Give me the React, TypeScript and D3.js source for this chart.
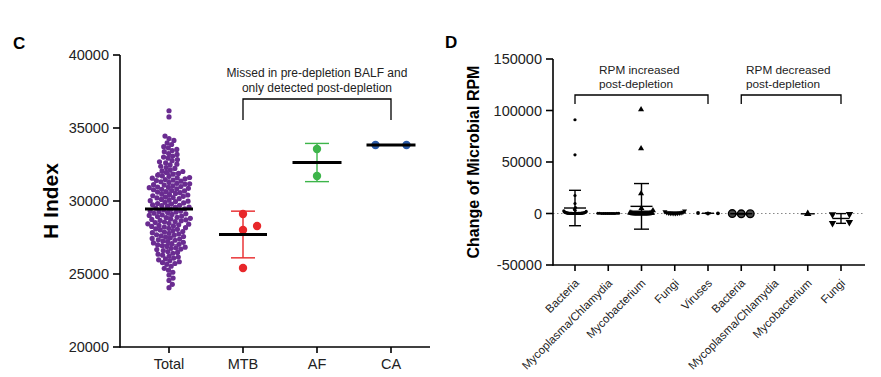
import React from "react";
import * as d3 from "d3";

// ---------- Panel C data ----------
const cCategories = ["Total", "MTB", "AF", "CA"];
const cTicks = [20000, 25000, 30000, 35000, 40000];
const totalValues = [
  36180, 35760,
  34450, 34280, 34150, 33980, 33870, 33720, 33640, 33530,
  33460, 33380, 33250, 33190, 33080, 33010, 32930, 32840, 32760, 32690, 32610, 32520, 32470, 32380, 32290, 32230, 32140,
  32070, 32020, 31960, 31890, 31840, 31770, 31720, 31690, 31610, 31560, 31520, 31470, 31430, 31360, 31320, 31270, 31210, 31180,
  31120, 31090, 31040, 30990, 30960, 30910, 30870, 30830, 30800, 30770, 31580, 31400, 31150, 30940,
  30720, 30690, 30640, 30610, 30570, 30520, 30470, 30440, 30410, 30360, 30320, 30270, 30240, 30210, 30160, 30110, 30070,
  30020, 29990, 29960, 29910, 29870, 29830, 29790, 29740, 29710, 29680, 29630, 29590, 29560, 29510, 29470, 29430,
  29390, 29340, 29310, 29270, 29240, 29210, 29160, 29120, 29080, 29040, 29010, 28970, 28940, 28880, 28860, 28810, 28770,
  28740, 28710, 28670, 28640, 28590, 28560, 28520, 28470, 28440, 28410, 28370, 28330, 28290, 28260, 28220, 28170, 28130,
  28090, 28060, 28020,
  27970, 27910, 27870, 27830, 27790, 27740, 27690, 27660, 27610, 27570, 27520, 27480, 27440, 27390, 27340, 27310, 27260,
  27220, 27170, 27130, 27080, 27030, 26990, 26940, 26890, 26840, 26790, 26760, 26710, 26670,
  26610, 26540, 26480, 26420, 26360, 26290, 26230, 26160, 26090, 26030, 25970, 25910, 25840, 25780, 25720, 25660,
  25530, 25390, 25260, 25120, 24930, 24720,
  24560, 24290, 24060,
];
const mtbValues = [29110, 28014, 28288, 25411];
const afValues = [33560, 31710];
const caValues = [33840, 33840];
const cBracketText = ["Missed in pre-depletion BALF and", "only detected post-depletion"];

// ---------- Panel D data ----------
const dCategories = [
  "Bacteria", "Mycoplasma/Chlamydia", "Mycobacterium", "Fungi", "Viruses",
  "Bacteria", "Mycoplasma/Chlamydia", "Mycobacterium", "Fungi",
];
const dTicks = [-50000, 0, 50000, 100000, 150000];
const incBacteria = [
  91000, 57000, 17500, 9700, 5800, 4000, 3000, 2500, 2000, 1500, 1200, 1000, 900, 800, 700, 600, 500, 450, 400,
  350, 300, 250, 200, 150, 120, 100, 80, 60, 50, 40, 30, 20, 10, 0, 0, 0, 0, 0,
];
const incMycoplasma = [300, 250, 200, 150, 120, 100, 80, 60, 40, 20, 0, 0];
const incMycobacterium = [
  101000, 63000, 19400, 5000, 3000, 800, 600, 400, 300, 200, 150, 100, 80, 60, 40, 20, 10, 0, 0, 0, 0, 0, 0, 0, 0, 0, 0, 0,
];
const incFungi = [2500, 1800, 1200, 800, 600, 400, 300, 200, 100, 50, 0, 0];
const incViruses = [500, 200, 0];
const decBacteria = [-100, -200, -300];
const decMycoplasma: number[] = [];
const decMycobacterium = [-300];
const decFungi = [-600, -900, -8400, -9400];
const dBracketA = ["RPM increased", "post-depletion"];
const dBracketB = ["RPM decreased", "post-depletion"];

const FONT = "'Liberation Sans', Arial, Helvetica, sans-serif";

type P = { v: number; x: number; y: number };
function swarm(values: number[], y: (v: number) => number, sx: number, sy: number, center: boolean): P[] {
  const sorted = values.map((v) => ({ v, y: y(v), x: 0 })).sort((a, b) => a.v - b.v);
  const placed: P[] = [];
  for (const p of sorted) {
    const iv: [number, number][] = [];
    for (const q of placed) {
      const dy = Math.abs(p.y - q.y);
      if (dy < sy) {
        const w = sx * Math.sqrt(1 - (dy / sy) ** 2);
        iv.push([q.x - w, q.x + w]);
      }
    }
    const cands = [0];
    iv.forEach(([a, b]) => cands.push(a, b));
    cands.sort((a, b) => Math.abs(a) - Math.abs(b) || b - a);
    let x = 0;
    for (const c of cands) {
      if (!iv.some(([a, b]) => c > a + 1e-6 && c < b - 1e-6)) { x = c; break; }
    }
    placed.push({ ...p, x });
  }
  if (center && placed.length) {
    const ext = d3.extent(placed, (d) => d.x) as [number, number];
    const s = (ext[0] + ext[1]) / 2;
    placed.forEach((d) => (d.x -= s));
  }
  return placed;
}

function stats(values: number[]) {
  const m = d3.mean(values) ?? 0;
  const sd = values.length > 1 ? d3.deviation(values) ?? 0 : 0;
  return { m, sd };
}

export default function App() {
  // ---- Panel C scales
  const cy = d3.scaleLinear().domain([20000, 40000]).range([347, 55]);
  const cx = d3.scalePoint<string>().domain(cCategories).range([169, 391]);
  const cAxisX0 = 120, cAxisX1 = 430;
  const cGroups = [
    { name: "Total", vals: totalValues, color: "#6a2c91", r: 2.6, sx: 4.7, sy: 4.7, center: false, mw: 48, cap: 24 },
    { name: "MTB", vals: mtbValues, color: "#e8272a", r: 4.2, sx: 16, sy: 8.4, center: false, mw: 48, cap: 24 },
    { name: "AF", vals: afValues, color: "#3db54a", r: 4.2, sx: 16, sy: 8.4, center: false, mw: 49, cap: 24 },
    { name: "CA", vals: caValues, color: "#2a5aa8", r: 4.2, sx: 31, sy: 8.4, center: true, mw: 49, cap: 24 },
  ];

  // ---- Panel D scales
  const dy = d3.scaleLinear().domain([-50000, 150000]).range([265, 59]);
  const dx = d3.scalePoint<string>().domain(dCategories.map((_, i) => String(i))).range([575, 841]);
  const dAxisX0 = 553, dAxisX1 = 865;
  const triUp = d3.symbol().type(d3.symbolTriangle);
  const dGroups = [
    { vals: incBacteria, shape: "dot", size: 1.6, sx: 0.75, sy: 3.2, mw: 22, cap: 12 },
    { vals: incMycoplasma, shape: "dot", size: 1.5, sx: 1.9, sy: 3.0, mw: 22, cap: 12 },
    { vals: incMycobacterium, shape: "up", size: 16, sx: 1.0, sy: 5.5, mw: 22, cap: 15 },
    { vals: incFungi, shape: "down", size: 11, sx: 1.8, sy: 4.0, mw: 22, cap: 12 },
    { vals: incViruses, shape: "dot", size: 1.9, sx: 10, sy: 4.0, mw: 12, cap: 6 },
    { vals: decBacteria, shape: "circle", size: 3.8, sx: 9, sy: 8.0, mw: 22, cap: 12 },
    { vals: decMycoplasma, shape: "dot", size: 1.5, sx: 3, sy: 3, mw: 22, cap: 12 },
    { vals: decMycobacterium, shape: "up", size: 24, sx: 8, sy: 7, mw: 14, cap: 8 },
    { vals: decFungi, shape: "down", size: 24, sx: 17, sy: 8, mw: 17, cap: 10 },
  ];

  const marker = (shape: string, size: number, x: number, y: number, key: number) => {
    if (shape === "dot") return <circle key={key} cx={x} cy={y} r={size} fill="#000" />;
    if (shape === "circle")
      return <circle key={key} cx={x} cy={y} r={size} fill="#444" stroke="#000" strokeWidth={1.4} />;
    const path = triUp.size(size)() as string;
    const rot = shape === "down" ? 180 : 0;
    return <path key={key} d={path} transform={`translate(${x},${y}) rotate(${rot})`} fill="#000" />;
  };

  return (
    <svg width={865} height={377} style={{ display: "block", fontFamily: FONT }}>
      <g transform="translate(-8,-8)">
        {/* ===== Panel C ===== */}
        <text x={13} y={49} fontSize={17} fontWeight="bold">C</text>
        <text transform={`translate(58,201) rotate(-90)`} textAnchor="middle" fontSize={21} fontWeight="bold">H Index</text>
        <line x1={cAxisX0} x2={cAxisX0} y1={cy(40000)} y2={cy(20000) + 0.75} stroke="#000" strokeWidth={1.6} />
        <line x1={cAxisX0} x2={cAxisX1} y1={cy(20000)} y2={cy(20000)} stroke="#000" strokeWidth={1.6} />
        {cTicks.map((t) => (
          <g key={t}>
            <line x1={cAxisX0 - 7} x2={cAxisX0} y1={cy(t)} y2={cy(t)} stroke="#000" strokeWidth={1.6} />
            <text x={cAxisX0 - 11} y={cy(t)} dy="0.35em" textAnchor="end" fontSize={14.5} fill="#222">{t}</text>
          </g>
        ))}
        {cCategories.map((c) => (
          <g key={c}>
            <line x1={cx(c)} x2={cx(c)} y1={cy(20000)} y2={cy(20000) + 6} stroke="#000" strokeWidth={1.6} />
            <text x={cx(c)} y={369} textAnchor="middle" fontSize={14.5} fill="#222">{c}</text>
          </g>
        ))}
        {cGroups.map((g) => {
          const x0 = cx(g.name) as number;
          const pts = swarm(g.vals, cy, g.sx, g.sy, g.center);
          const { m, sd } = stats(g.vals);
          return (
            <g key={g.name}>
              {sd > 0 && (
                <g stroke={g.color} strokeWidth={1.4}>
                  <line x1={x0} x2={x0} y1={cy(m + sd)} y2={cy(m - sd)} />
                  <line x1={x0 - g.cap / 2} x2={x0 + g.cap / 2} y1={cy(m + sd)} y2={cy(m + sd)} />
                  <line x1={x0 - g.cap / 2} x2={x0 + g.cap / 2} y1={cy(m - sd)} y2={cy(m - sd)} />
                </g>
              )}
              {pts.map((p, i) => (
                <circle key={i} cx={x0 + p.x} cy={p.y} r={g.r} fill={g.color} />
              ))}
              <line x1={x0 - g.mw / 2} x2={x0 + g.mw / 2} y1={cy(m)} y2={cy(m)} stroke="#000" strokeWidth={3} />
            </g>
          );
        })}
        {/* bracket C */}
        <path
          d={`M${cx("MTB")},120V99H${cx("CA")}V120`}
          fill="none" stroke="#000" strokeWidth={1.3}
        />
        {cBracketText.map((t, i) => (
          <text key={i} x={317} y={77 + i * 14.5} textAnchor="middle" fontSize={12} fill="#222">{t}</text>
        ))}

        {/* ===== Panel D ===== */}
        <text x={445} y={48} fontSize={17} fontWeight="bold">D</text>
        <text transform={`translate(479,162) rotate(-90)`} textAnchor="middle" fontSize={16} fontWeight="bold">
          Change of Microbial RPM
        </text>
        <line x1={dAxisX0} x2={dAxisX1} y1={dy(0)} y2={dy(0)} stroke="#888" strokeWidth={1.2} strokeDasharray="1.5,2.5" />
        <line x1={dAxisX0} x2={dAxisX0} y1={dy(150000)} y2={dy(-50000) + 0.75} stroke="#000" strokeWidth={1.6} />
        <line x1={dAxisX0} x2={dAxisX1} y1={dy(-50000)} y2={dy(-50000)} stroke="#000" strokeWidth={1.6} />
        {dTicks.map((t) => (
          <g key={t}>
            <line x1={dAxisX0 - 7} x2={dAxisX0} y1={dy(t)} y2={dy(t)} stroke="#000" strokeWidth={1.6} />
            <text x={dAxisX0 - 11} y={dy(t)} dy="0.35em" textAnchor="end" fontSize={14.5} fill="#222">{t}</text>
          </g>
        ))}
        {dCategories.map((c, i) => {
          const x = dx(String(i)) as number;
          return (
            <g key={i}>
              <line x1={x} x2={x} y1={dy(-50000)} y2={dy(-50000) + 6} stroke="#000" strokeWidth={1.6} />
              <text transform={`translate(${x + 2},${281}) rotate(-45)`} dy="0.35em" textAnchor="end" fontSize={11.5} fill="#222">
                {c}
              </text>
            </g>
          );
        })}
        {dGroups.map((g, gi) => {
          if (!g.vals.length) return null;
          const x0 = dx(String(gi)) as number;
          const pts = swarm(g.vals, dy, g.sx, g.sy, true);
          const { m, sd } = stats(g.vals);
          return (
            <g key={gi}>
              {pts.map((p, i) => marker(g.shape, g.size, x0 + p.x, p.y, i))}
              <g stroke="#000" strokeWidth={1.4}>
                <line x1={x0 - g.mw / 2} x2={x0 + g.mw / 2} y1={dy(m)} y2={dy(m)} />
                {sd > 0 && (
                  <>
                    <line x1={x0} x2={x0} y1={dy(m + sd)} y2={dy(m - sd)} />
                    <line x1={x0 - g.cap / 2} x2={x0 + g.cap / 2} y1={dy(m + sd)} y2={dy(m + sd)} />
                    <line x1={x0 - g.cap / 2} x2={x0 + g.cap / 2} y1={dy(m - sd)} y2={dy(m - sd)} />
                  </>
                )}
              </g>
            </g>
          );
        })}
        {/* brackets D */}
        <path d={`M${dx("0")},104V95H${dx("4")}V104`} fill="none" stroke="#000" strokeWidth={1.3} />
        <path d={`M${dx("5")},104V95H${dx("8")}V104`} fill="none" stroke="#000" strokeWidth={1.3} />
        {dBracketA.map((t, i) => (
          <text key={i} x={599} y={74 + i * 14} fontSize={11.8} fill="#222">{t}</text>
        ))}
        {dBracketB.map((t, i) => (
          <text key={i} x={746} y={74 + i * 14} fontSize={11.8} fill="#222">{t}</text>
        ))}
      </g>
    </svg>
  );
}
